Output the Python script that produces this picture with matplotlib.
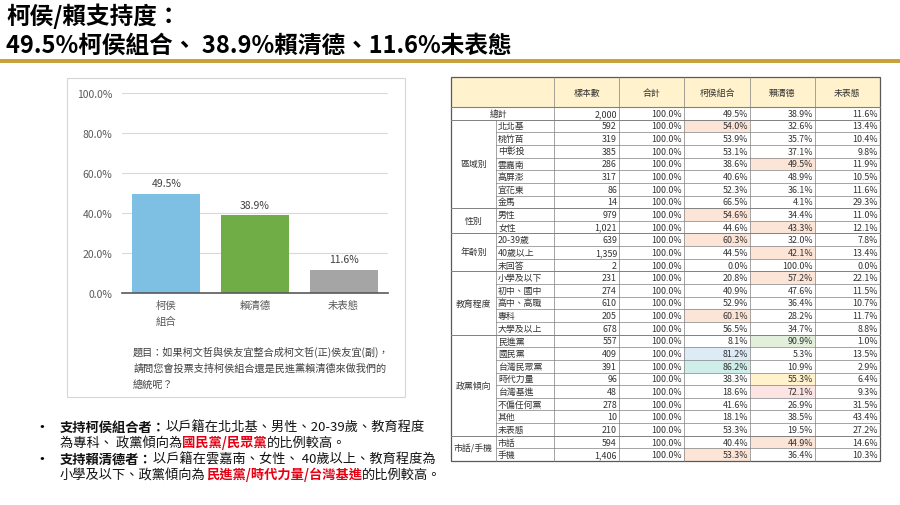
import matplotlib
matplotlib.use('Agg')
import matplotlib.pyplot as plt
from matplotlib.patches import Rectangle

plt.rcParams['font.family'] = ['Noto Sans CJK TC', 'DejaVu Sans']

# ---- data ----
bar_cats = ['柯侯\n組合', '賴清德', '未表態']
bar_vals = [49.5, 38.9, 11.6]
bar_colors = ['#7DC0E4', '#70AD47', '#A5A5A5']

header = ['樣本數', '合計', '柯侯組合', '賴清德', '未表態']
total_row = [2000, 100.0, 49.5, 38.9, 11.6]

groups = ['區域別', '性別', '年齡別', '教育程度', '政黨傾向', '市話/手機']
group_sizes = [7, 2, 3, 5, 8, 2]
subcats = ['北北基', '桃竹苗', '中彰投', '雲嘉南', '高屏澎', '宜花東', '金馬',
           '男性', '女性',
           '20-39歲', '40歲以上', '未回答',
           '小學及以下', '初中、國中', '高中、高職', '專科', '大學及以上',
           '民進黨', '國民黨', '台灣民眾黨', '時代力量', '台灣基進', '不偏任何黨', '其他', '未表態',
           '市話', '手機']
samples = [592, 319, 385, 286, 317, 86, 14,
           979, 1021,
           639, 1359, 2,
           231, 274, 610, 205, 678,
           557, 409, 391, 96, 48, 278, 10, 210,
           594, 1406]
ko_hou = [54.0, 53.9, 53.1, 38.6, 40.6, 52.3, 66.5,
          54.6, 44.6,
          60.3, 44.5, 0.0,
          20.8, 40.9, 52.9, 60.1, 56.5,
          8.1, 81.2, 86.2, 38.3, 18.6, 41.6, 18.1, 53.3,
          40.4, 53.3]
lai = [32.6, 35.7, 37.1, 49.5, 48.9, 36.1, 4.1,
       34.4, 43.3,
       32.0, 42.1, 100.0,
       57.2, 47.6, 36.4, 28.2, 34.7,
       90.9, 5.3, 10.9, 55.3, 72.1, 26.9, 38.5, 19.5,
       44.9, 36.4]
undecided = [13.4, 10.4, 9.8, 11.9, 10.5, 11.6, 29.3,
             11.0, 12.1,
             7.8, 13.4, 0.0,
             22.1, 11.5, 10.7, 11.7, 8.8,
             1.0, 13.5, 2.9, 6.4, 9.3, 31.5, 43.4, 27.2,
             14.6, 10.3]

# highlighted cells: (row label, column 0=柯侯組合 / 1=賴清德, colour)
orange = '#FCE4D6'
highlights = [('北北基', 0, orange), ('雲嘉南', 1, orange), ('男性', 0, orange),
              ('女性', 1, orange), ('20-39歲', 0, orange), ('40歲以上', 1, orange),
              ('小學及以下', 1, orange), ('專科', 0, orange),
              ('民進黨', 1, '#E2EFDA'), ('國民黨', 0, '#DDEBF7'),
              ('台灣民眾黨', 0, '#CFEDE9'), ('時代力量', 1, '#FFF2CC'),
              ('台灣基進', 1, '#FCE4E4'), ('市話', 1, orange), ('手機', 0, orange)]

question = ['題目：如果柯文哲與侯友宜整合成柯文哲(正)侯友宜(副)，',
            '請問您會投票支持柯侯組合還是民進黨賴清德來做我們的',
            '總統呢？']

W, H = 900, 506
fig = plt.figure(figsize=(9, 5.06), dpi=100)
page = fig.add_axes([0, 0, 1, 1])
page.set_xlim(0, W)
page.set_ylim(H, 0)
page.axis('off')

# title
page.text(6, 16, '柯侯/賴支持度：', fontsize=17, fontweight='bold', va='center')
page.text(6, 46, '49.5%柯侯組合、 38.9%賴清德、11.6%未表態', fontsize=17,
          fontweight='bold', va='center')
page.plot([0, W], [62, 62], color='#C8A136', lw=2.8, solid_capstyle='butt')

# chart panel
page.add_patch(Rectangle((67, 79), 338, 319, fc='white', ec='#D6D6D6', lw=0.8))
for i, line in enumerate(question):
    page.text(133, 352 + i * 16.5, line, fontsize=7.3, color='#404040', va='center')

ax = fig.add_axes([122 / W, 1 - 294 / H, 266 / W, 200 / H])
bars = ax.bar(range(len(bar_vals)), bar_vals, width=0.77, color=bar_colors, zorder=3)
ax.bar_label(bars, labels=[f'{v}%' for v in bar_vals], padding=4, fontsize=7.5,
             color='#404040')
ax.set_xlim(-0.5, 2.5)
ax.set_ylim(0, 100)
ax.set_yticks(range(0, 101, 20))
ax.set_yticklabels([f'{v:.1f}%' for v in range(0, 101, 20)])
ax.set_xticks(range(len(bar_cats)))
ax.set_xticklabels(bar_cats, linespacing=1.7)
ax.grid(axis='y', color='#D9D9D9', lw=0.8, zorder=0)
for s in ['top', 'right', 'left']:
    ax.spines[s].set_visible(False)
ax.spines['bottom'].set_color('#595959')
ax.spines['bottom'].set_linewidth(1.2)
ax.spines['bottom'].set_zorder(4)
ax.tick_params(axis='both', length=0, labelsize=7.5, colors='#595959')
ax.tick_params(axis='y', pad=7)
ax.tick_params(axis='x', pad=5)

# bullets
bfs = 9.5

def segs(x, y, parts):
    prev = None
    for s, color, weight in parts:
        if prev is None:
            prev = page.text(x, y, s, fontsize=bfs, color=color, fontweight=weight,
                             va='center', ha='left')
        else:
            prev = page.annotate(s, xy=(1, 0), xycoords=prev, va='bottom', ha='left',
                                 fontsize=bfs, color=color, fontweight=weight)

red = '#E60012'
blk = '#111111'
page.text(42, 428, '•', fontsize=12, va='center', ha='center')
page.text(42, 460, '•', fontsize=12, va='center', ha='center')
segs(60, 428, [('支持柯侯組合者：', blk, 'bold'), ('以戶籍在北北基、男性、20-39歲、教育程度', blk, 'normal')])
segs(60, 443.5, [('為專科、 政黨傾向為', blk, 'normal'), ('國民黨/民眾黨', red, 'bold'),
                 ('的比例較高。', blk, 'normal')])
segs(60, 460, [('支持賴清德者：', blk, 'bold'), ('以戶籍在雲嘉南、女性、 40歲以上、教育程度為', blk, 'normal')])
segs(60, 475.5, [('小學及以下、政黨傾向為', blk, 'normal'), ('民進黨/時代力量/台灣基進', red, 'bold'),
                 ('的比例較高。', blk, 'normal')])

# table
cx = [451, 496, 554, 619, 684, 750, 815, 880]
top, head_b, bottom = 78, 108, 462
nrows = 1 + len(subcats)
rh = (bottom - head_b) / nrows
lc = '#808080'
fs = 6.4
tc = '#333333'

page.add_patch(Rectangle((cx[0], top), cx[-1] - cx[0], head_b - top, fc='#FFF2CC', ec='none'))
hl = {(r, c): col for r, c, col in highlights}
for i, sub in enumerate(subcats):
    for c in range(2):
        if (sub, c) in hl:
            y = head_b + (i + 1) * rh
            page.add_patch(Rectangle((cx[4 + c], y), cx[5 + c] - cx[4 + c], rh,
                                     fc=hl[(sub, c)], ec='none'))

for j, h in enumerate(header):
    page.text((cx[2 + j] + cx[3 + j]) / 2, (top + head_b) / 2, h, fontsize=fs,
              color=tc, ha='center', va='center')

def fmt_row(y, vals):
    n, tot, a, b, u = vals
    yc = y + rh / 2
    page.text(cx[3] - 2, yc, f'{n:,}', fontsize=fs, color=tc, ha='right', va='center')
    for k, v in enumerate([tot, a, b, u]):
        page.text(cx[4 + k] - 2, yc, f'{v:.1f}%', fontsize=fs, color=tc, ha='right', va='center')

page.text((cx[0] + cx[2]) / 2 - 4, head_b + rh / 2, '總計', fontsize=fs, color=tc,
          ha='center', va='center')
fmt_row(head_b, total_row)

row = 1
for g, size in zip(groups, group_sizes):
    gy = head_b + row * rh
    page.text((cx[0] + cx[1]) / 2, gy + size * rh / 2, g, fontsize=fs, color=tc,
              ha='center', va='center')
    page.plot([cx[0], cx[-1]], [gy, gy], color=lc, lw=0.7)
    for k in range(size):
        i = row - 1 + k
        y = gy + k * rh
        if k > 0:
            page.plot([cx[1], cx[-1]], [y, y], color=lc, lw=0.5)
        page.text(cx[1] + 2, y + rh / 2, subcats[i], fontsize=fs, color=tc,
                  ha='left', va='center')
        fmt_row(y, [samples[i], 100.0, ko_hou[i], lai[i], undecided[i]])
    row += size

page.plot([cx[0], cx[-1]], [head_b, head_b], color=lc, lw=0.8)
for x in cx[2:-1]:
    page.plot([x, x], [top, bottom], color=lc, lw=0.5)
page.plot([cx[1], cx[1]], [head_b + rh, bottom], color=lc, lw=0.5)
page.add_patch(Rectangle((cx[0], top), cx[-1] - cx[0], bottom - top, fc='none',
                         ec='#595959', lw=0.9))

fig.savefig('out.png', dpi=100)
